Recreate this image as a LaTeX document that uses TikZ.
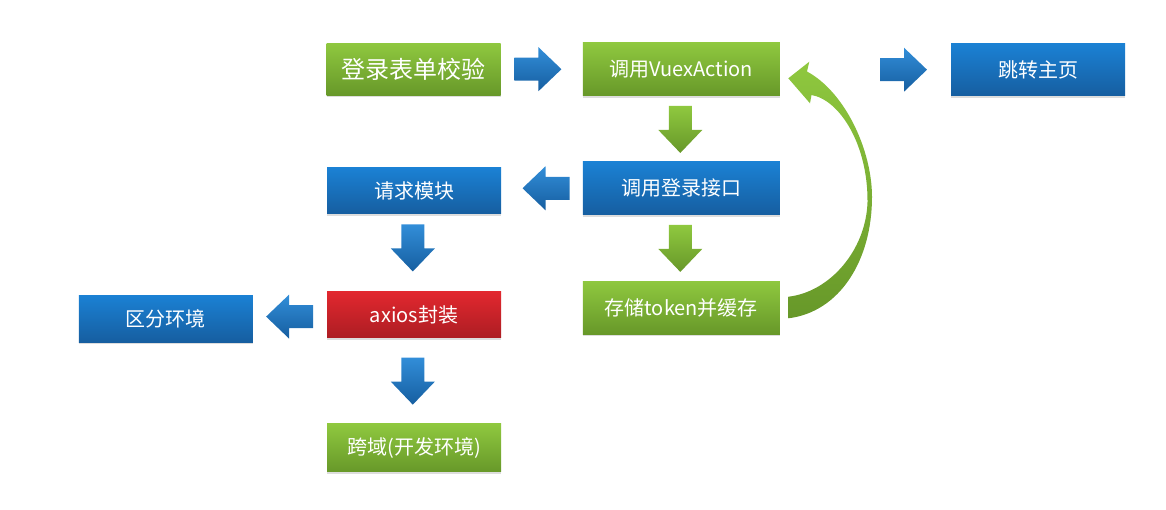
\documentclass[tikz,border=0pt]{standalone}
\usepackage{fontspec}
\newfontfamily\cjkfont{Noto Sans CJK SC}
\usetikzlibrary{calc,shadows}

\definecolor{gtop}{HTML}{8FC83F}
\definecolor{gbot}{HTML}{679829}
\definecolor{btop}{HTML}{1B81D4}
\definecolor{bbot}{HTML}{165EA0}
\definecolor{rtop}{HTML}{E2282F}
\definecolor{rbot}{HTML}{AD1D23}

\tikzset{
  box/.style={rectangle, minimum width=174pt, minimum height=47pt, inner sep=0pt,
    text=white, font=\cjkfont\fontsize{20}{22}\selectfont,
    drop shadow={shadow xshift=0pt, shadow yshift=-2pt, opacity=0.22, fill=black!60}},
  wide/.style={minimum width=197pt, minimum height=53pt},
  greenbox/.style={box, top color=gtop, bottom color=gbot},
  bluebox/.style={box, top color=btop, bottom color=bbot},
  redbox/.style={box, top color=rtop, bottom color=rbot},
  bluearrow/.style={top color=btop!90!white, bottom color=bbot},
  greenarrow/.style={top color=gtop, bottom color=gbot},
}

% fat block arrow centred at #1, turned by #2 degrees, styled by #3
\newcommand{\blockarrow}[3]{%
  \shade[#3, shift={(#1)}, rotate=#2]
    (-23.5,-11.5) -- (0.5,-11.5) -- (0.5,-22) -- (23.5,0)
    -- (0.5,22) -- (0.5,11.5) -- (-23.5,11.5) -- cycle;}

\begin{document}
\begin{tikzpicture}[x=1pt, y=-1pt]
  \useasboundingbox (0,0) rectangle (1166,509);

  % process boxes
  \node[greenbox, minimum height=52pt, font=\cjkfont\fontsize{24}{26}\selectfont]
    (login) at (413.5,69.2) {登录表单校验};
  \node[greenbox, wide] (vuex) at (681.3,69.2) {调用VuexAction};
  \node[bluebox, minimum height=52.5pt] (home) at (1038,69.7) {跳转主页};
  \node[bluebox, minimum height=46pt] (req) at (414,190.8) {请求模块};
  \node[bluebox, wide] (api) at (681.3,188.3) {调用登录接口};
  \node[redbox, minimum height=46pt] (axios) at (414,314.5) {axios封装};
  \node[bluebox] (env) at (165.8,318.7) {区分环境};
  \node[greenbox, wide] (store) at (681.3,307.5) {存储token并缓存};
  \node[greenbox, minimum height=48pt] (cross) at (414,447.8) {跨域(开发环境)};

  % block arrows between the boxes
  \blockarrow{$(login.east)!0.5!(vuex.west)+(-3.7,0)$}{0}{bluearrow}
  \blockarrow{$(home.west)+(-47.3,0)$}{0}{bluearrow}
  \blockarrow{$(vuex.south)!0.5!(api.north)+(-1,0.7)$}{-90}{greenarrow}
  \blockarrow{$(api.south)!0.5!(store.north)+(-1,0.5)$}{-90}{greenarrow}
  \blockarrow{$(api.west)!0.5!(req.east)+(4.1,-1.3)$}{180}{bluearrow}
  \blockarrow{$(req.south)!0.5!(axios.north)+(-1.2,-4.7)$}{-90}{bluearrow}
  \blockarrow{$(axios.south)!0.5!(cross.north)+(-1.2,0.5)$}{-90}{bluearrow}
  \blockarrow{$(axios.west)!0.5!(env.east)+(-0.3,0)$}{180}{bluearrow}

  % curved return arrow from the token store back to the Vuex action
  \shade[top color=gtop, bottom color=gbot]
    (788.3,78.3) -- (809.3,61.7) -- (807,71.5)
    .. controls (845,92) and (872,150) .. (872,197)
    .. controls (872,260) and (840,312) .. (788.3,318.3)
    -- (788.3,296.7)
    .. controls (830,292) and (866,250) .. (867.5,202)
    .. controls (868,145) and (840,100) .. (811.5,95)
    -- (810,103.3) -- cycle;
\end{tikzpicture}
\end{document}
